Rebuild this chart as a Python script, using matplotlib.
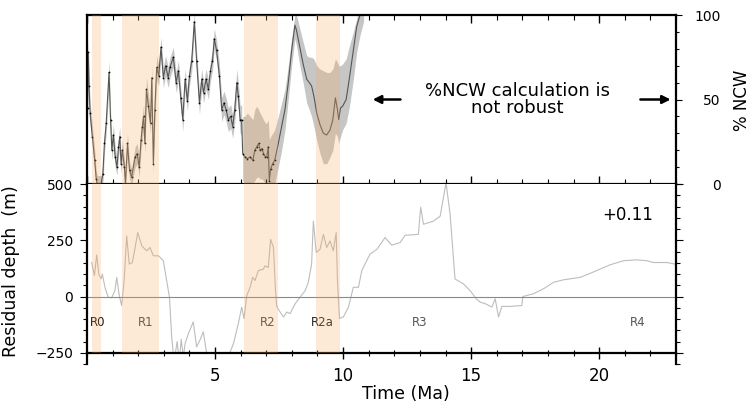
import matplotlib
matplotlib.use("Agg")
import matplotlib.pyplot as plt
from matplotlib.ticker import MultipleLocator, FixedLocator
from matplotlib.patches import Rectangle
import numpy as np

plt.rcParams['font.family'] = ['DejaVu Sans']

# --- %NCW record, jagged part (Ma, %NCW, +/- error) ---
ncw_t_a = [0.02, 0.05, 0.08, 0.12, 0.21, 0.30, 0.36, 0.40, 0.55, 0.62,
           0.68, 0.75, 0.86, 0.92, 0.97, 1.03, 1.10, 1.17, 1.23, 1.28,
           1.33, 1.38, 1.46, 1.50, 1.58, 1.66, 1.74, 1.88, 1.96, 2.04,
           2.11, 2.16, 2.21, 2.26, 2.32, 2.40, 2.48, 2.53, 2.59, 2.65,
           2.72, 2.80, 2.89, 2.98, 3.07, 3.17, 3.24, 3.37, 3.48, 3.57,
           3.66, 3.74, 3.83, 3.92, 4.00, 4.09, 4.19, 4.28, 4.39, 4.48,
           4.55, 4.65, 4.74, 4.82, 4.90, 4.97, 5.06, 5.17, 5.26, 5.35,
           5.43, 5.52, 5.61, 5.69, 5.77, 5.85, 5.91, 5.98, 6.04]
ncw_a = [45, 78, 58, 42, 28, 14, 3, 0, 0, 6,
         24, 36, 66, 38, 20, 29, 16, 10, 22, 28,
         12, 20, 10, 0, 24, 8, 4, 16, 18, 10,
         26, 34, 40, 24, 56, 46, 36, 63, 12, 44,
         69, 64, 81, 63, 70, 63, 69, 75, 60, 67,
         51, 38, 62, 49, 64, 73, 96, 73, 48, 62,
         54, 62, 56, 67, 73, 86, 79, 64, 44, 48,
         44, 38, 40, 34, 44, 60, 52, 38, 38]
ncw_err_a = [8, 8, 7, 7, 6, 6, 5, 5, 5, 6,
             6, 6, 7, 6, 6, 6, 6, 5, 6, 6,
             6, 6, 5, 5, 6, 5, 5, 6, 6, 6,
             6, 7, 7, 6, 7, 7, 6, 7, 6, 7,
             7, 6, 6, 6, 6, 6, 6, 6, 6, 6,
             6, 7, 6, 6, 6, 6, 6, 6, 7, 6,
             6, 6, 6, 6, 6, 6, 6, 7, 7, 7,
             7, 7, 7, 7, 7, 8, 8, 8, 9]

# --- %NCW record, smooth part (Ma, %NCW, band low, band high) ---
ncw_t_b = [6.08, 6.17, 6.26, 6.37, 6.48, 6.55, 6.63, 6.70, 6.76, 6.83,
           6.89, 6.97, 7.02, 7.08, 7.12, 7.17, 7.25, 7.33, 7.47, 7.60,
           7.73, 7.86, 7.99, 8.12, 8.18, 8.31, 8.44, 8.58, 8.68, 8.77,
           8.86, 8.97, 9.10, 9.23, 9.36, 9.49, 9.60, 9.70, 9.78, 9.83,
           9.90, 9.98, 10.12, 10.25, 10.40, 10.53, 10.66, 10.80]
ncw_b = [18, 16, 15, 16, 14, 20, 22, 24, 20, 21,
         18, 16, 16, 22, 2, 9, 12, 14, 24, 34,
         44, 60, 79, 94, 91, 81, 71, 62, 60, 58,
         52, 42, 35, 30, 29, 32, 38, 51, 44, 38,
         45, 46, 50, 63, 79, 93, 100, 108]
ncw_lo_b = [2, 0, 0, 0, 0, 2, 4, 4, 3, 3,
            2, 0, 0, 2, 0, 0, 0, 0, 10, 20,
            32, 50, 70, 86, 82, 70, 60, 48, 44, 40,
            34, 26, 18, 12, 12, 16, 20, 30, 28, 24,
            28, 32, 36, 46, 62, 78, 88, 96]
ncw_hi_b = [40, 40, 42, 40, 38, 44, 46, 44, 42, 40,
            38, 36, 36, 38, 26, 28, 30, 32, 40, 48,
            56, 70, 86, 100, 100, 92, 84, 76, 75, 75,
            74, 70, 68, 67, 66, 66, 68, 74, 72, 70,
            70, 71, 74, 82, 90, 98, 105, 110]

# --- residual depth (Ma, m) ---
depth_t = [0.18, 0.29, 0.38, 0.46, 0.55, 0.60, 0.70, 0.83, 0.96, 1.09,
           1.16, 1.26, 1.35, 1.45, 1.55, 1.65, 1.77, 1.88, 1.98, 2.14,
           2.33, 2.46, 2.59, 2.79, 2.98, 3.11, 3.22, 3.31, 3.40, 3.52,
           3.60, 3.68, 3.76, 3.83, 3.96, 4.15, 4.28, 4.41, 4.54, 4.67,
           4.90, 5.30, 5.72, 5.91, 6.04, 6.13, 6.24, 6.37, 6.47, 6.56,
           6.69, 6.89, 6.95, 7.08, 7.17, 7.28, 7.36, 7.41, 7.54, 7.67,
           7.80, 7.93, 8.13, 8.32, 8.52, 8.64, 8.77, 8.84, 8.95, 9.10,
           9.23, 9.36, 9.49, 9.62, 9.73, 9.78, 9.86, 10.01, 10.21, 10.40,
           10.60, 10.73, 10.92, 11.05, 11.32, 11.64, 11.90, 12.23, 12.42, 12.94,
           13.03, 13.14, 13.53, 13.79, 14.02, 14.18, 14.37, 14.70, 14.96, 15.20,
           15.35, 15.55, 15.81, 15.94, 16.07, 16.20, 16.52, 16.98, 17.02, 17.43,
           17.82, 18.22, 18.60, 19.26, 19.65, 20.04, 20.43, 20.95, 21.47, 21.86,
           22.12, 22.64, 22.97]
depth = [151, 93, 185, 100, 78, 100, 41, -3, -6, 26,
         85, 5, -40, 70, 269, 144, 151, 218, 284, 225,
         203, 218, 181, 181, 159, 71, -3, -185, -290, -200,
         -290, -190, -270, -209, -165, -113, -224, -194, -157, -250,
         -330, -330, -209, -120, -47, -98, 4, 41, 85, 71,
         115, 122, 136, 129, 254, 218, 26, -44, -69, -91,
         -69, -76, -32, -3, 26, 63, 144, 335, 196, 210,
         276, 218, 247, 203, 284, 70, -98, -91, -47, 41,
         41, 115, 159, 188, 210, 262, 228, 240, 272, 276,
         397, 321, 335, 357, 505, 365, 78, 56, 26, -10,
         -25, -32, -47, -10, -91, -44, -44, -40, 0, 12,
         34, 63, 74, 85, 103, 122, 141, 159, 163, 159,
         151, 151, 144]

# shaded intervals
band_start = [0.18, 1.38, 6.12, 8.93]
band_end = [0.53, 2.81, 7.47, 9.86]

region_names = ['R0', 'R1', 'R2', 'R2a', 'R3', 'R4']
region_x = [0.43, 2.30, 7.06, 9.18, 13.0, 21.5]
region_colors = ['#111111', '#444444', '#444444', '#222222', '#555555', '#555555']

band_color = '#F5A95C'

fig = plt.figure(figsize=(7.52, 4.12), dpi=100)
ax1 = fig.add_axes([87 / 752, 1 - 184 / 412, 589 / 752, 169 / 412])
ax2 = fig.add_axes([87 / 752, 1 - 364 / 412, 589 / 752, 180 / 412])

# ---- top panel: %NCW ----
t_all = np.concatenate([ncw_t_a, ncw_t_b])
ncw_all = np.concatenate([ncw_a, ncw_b])
ax1.fill_between(ncw_t_a, np.array(ncw_a) - np.array(ncw_err_a),
                 np.array(ncw_a) + np.array(ncw_err_a), color='#c6c6c6', lw=0)
ax1.fill_between(ncw_t_b, ncw_lo_b, ncw_hi_b, color='#c6c6c6', lw=0)
ax1.plot(t_all, ncw_all, color='#555555', lw=0.8)
ax1.plot(ncw_t_a + ncw_t_b[:18], ncw_a + ncw_b[:18], 'o', color='black', ms=1.3, mew=0)

for x0, x1 in zip(band_start, band_end):
    ax1.axvspan(x0, x1, color=band_color, alpha=0.25, lw=0, zorder=5)

ax1.set_xlim(0, 23)
ax1.set_ylim(0, 100)

ax1.annotate('', xy=(11.05, 50), xytext=(12.35, 50),
             arrowprops=dict(arrowstyle='-|>', color='black', lw=1.8, mutation_scale=12))
ax1.annotate('', xy=(22.9, 50), xytext=(21.5, 50),
             arrowprops=dict(arrowstyle='-|>', color='black', lw=1.8, mutation_scale=12))
ax1.text(16.8, 50, '%NCW calculation is\nnot robust', ha='center', va='center',
         fontsize=13, linespacing=0.9)

ax1.xaxis.set_major_locator(MultipleLocator(5))
ax1.xaxis.set_minor_locator(MultipleLocator(1))
ax1.tick_params(axis='x', which='both', direction='in', top=True, bottom=True,
                labelbottom=False)
ax1.tick_params(axis='x', which='major', length=5.5, width=1)
ax1.tick_params(axis='x', which='minor', length=3.5, width=0.8)
ax1.yaxis.tick_right()
ax1.yaxis.set_major_locator(FixedLocator([0, 50, 100]))
ax1.yaxis.set_minor_locator(MultipleLocator(10))
ax1.tick_params(axis='y', which='major', direction='out', length=4.5, width=0.8,
                labelsize=10, pad=27.5)
ax1.tick_params(axis='y', which='minor', direction='out', length=2.5, width=0.8)
for lab in ax1.get_yticklabels():
    lab.set_horizontalalignment('right')
ax1.yaxis.set_label_position('right')
ax1.set_ylabel('% NCW', fontsize=12, rotation=90)
ax1.yaxis.set_label_coords(1.097, 0.497)
for s in ax1.spines.values():
    s.set_linewidth(1.6)

# ---- bottom panel: residual depth ----
depth_line, = ax2.plot(depth_t, depth, color='#bdbdbd', lw=0.8)
# curve stops at the -250 axis line
depth_line.set_clip_path(Rectangle((0, -250), 23, 750, transform=ax2.transData))
ax2.axhline(0, color='#8a8a8a', lw=0.8)
for x0, x1 in zip(band_start, band_end):
    ax2.fill_betweenx([-250, 500], x0, x1, color=band_color, alpha=0.25, lw=0, zorder=5)

for name, x, c in zip(region_names, region_x, region_colors):
    ax2.text(x, -115, name, ha='center', va='center', fontsize=8.5, color=c)
ax2.text(21.1, 364, '+0.11', ha='center', va='center', fontsize=12)

ax2.set_xlim(0, 23)
ax2.set_ylim(-300, 500)
ax2.spines['bottom'].set_position(('data', -250))
ax2.spines['top'].set_visible(False)
for s in ax2.spines.values():
    s.set_linewidth(1.6)

ax2.xaxis.set_major_locator(FixedLocator([5, 10, 15, 20]))
ax2.xaxis.set_minor_locator(MultipleLocator(1))
ax2.tick_params(axis='x', which='major', direction='inout', length=9, width=1,
                labelsize=12, pad=6)
ax2.tick_params(axis='x', which='minor', direction='inout', length=4.5, width=0.8)
ax2.yaxis.set_major_locator(FixedLocator([-250, 0, 250, 500]))
ax2.yaxis.set_minor_locator(MultipleLocator(50))
ax2.tick_params(axis='y', which='both', direction='out', right=True, labelright=False)
ax2.tick_params(axis='y', which='major', length=5, width=0.8, labelsize=10, pad=5)
ax2.tick_params(axis='y', which='minor', length=3, width=0.8)

ax2.set_xlabel('Time (Ma)', fontsize=12.5)
ax2.xaxis.set_label_coords(0.5416, -0.115)
ax2.set_ylabel('Residual depth  (m)', fontsize=12.5)
ax2.yaxis.set_label_coords(-0.114, 0.517)

plt.savefig('out.png', dpi=100)
